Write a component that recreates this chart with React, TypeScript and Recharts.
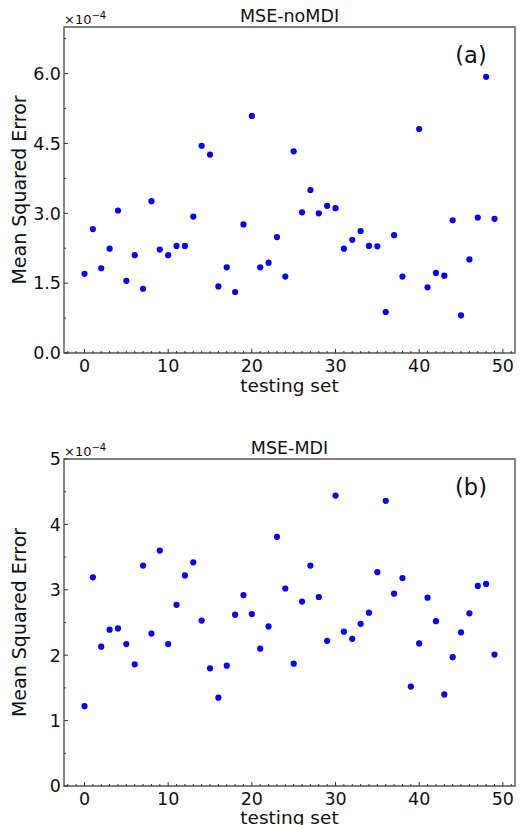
import React from "react";
import {
  ScatterChart,
  Scatter,
  XAxis,
  YAxis,
  ReferenceArea,
} from "recharts";

// values in units of 1e-4, index = testing set
const mseNoMdi: (number | null)[] = [
  1.70, 2.66, 1.82, 2.24, 3.06, 1.55, 2.10, 1.38, 3.26, 2.22,
  2.10, 2.30, 2.30, 2.93, 4.45, 4.26, 1.43, 1.84, 1.31, 2.76,
  5.09, 1.84, 1.94, 2.49, 1.64, 4.33, 3.02, 3.50, 3.00, 3.16,
  3.11, 2.24, 2.43, 2.62, 2.30, 2.29, 0.88, 2.53, 1.64, null,
  4.81, 1.41, 1.72, 1.66, 2.85, 0.81, 2.01, 2.91, 5.93, 2.88,
];

const mseMdi: number[] = [
  1.22, 3.19, 2.13, 2.39, 2.41, 2.17, 1.86, 3.37, 2.33, 3.60,
  2.17, 2.77, 3.22, 3.42, 2.53, 1.80, 1.35, 1.84, 2.62, 2.92,
  2.63, 2.10, 2.44, 3.81, 3.02, 1.87, 2.82, 3.37, 2.89, 2.22,
  4.44, 2.36, 2.25, 2.48, 2.65, 3.27, 4.36, 2.94, 3.18, 1.52,
  2.18, 2.88, 2.52, 1.40, 1.97, 2.35, 2.64, 3.06, 3.09, 2.01,
];

const xTicks = Array.from({ length: 54 }, (_, i) => i - 2);
const yTicksTop = [0, 0.75, 1.5, 2.25, 3, 3.75, 4.5, 5.25, 6, 6.75];
const yTicksBottom = [0, 0.5, 1, 1.5, 2, 2.5, 3, 3.5, 4, 4.5, 5];

const FONT = "'DejaVu Sans', sans-serif";
const FRAME = "#555";
const X_DOMAIN: [number, number] = [-2.45, 51.45];

const toPoints = (vals: (number | null)[]) =>
  vals
    .map((v, i) => ({ x: i, y: v }))
    .filter((p) => p.y !== null);

const Dot = (props: any) => {
  const { cx, cy } = props;
  return <circle cx={cx} cy={cy} r={3.1} fill="#0000ff" />;
};

const XTick = (props: any) => {
  const { x, y, payload } = props;
  const v = payload.value;
  const major = v % 10 === 0;
  return (
    <g>
      <line x1={x} x2={x} y1={y} y2={y - (major ? 4 : 2)} stroke="#333" strokeWidth={1} />
      {major && v >= 0 && (
        <text x={x} y={y + 18.5} textAnchor="middle" fontSize={17.5} fontFamily={FONT} fill="#111">
          {v}
        </text>
      )}
    </g>
  );
};

const makeYTick = (step: number, digits: number) => (props: any) => {
  const { x, y, payload } = props;
  const v = payload.value;
  const major = Math.abs(v / step - Math.round(v / step)) < 1e-6;
  return (
    <g>
      <line x1={x} x2={x + (major ? 4 : 2)} y1={y} y2={y} stroke="#333" strokeWidth={1} />
      {major && (
        <text x={x - 3} y={y} dy="0.36em" textAnchor="end" fontSize={17.5} fontFamily={FONT} fill="#111">
          {v.toFixed(digits)}
        </text>
      )}
    </g>
  );
};

interface PanelProps {
  height: number;
  plotTop: number;
  plotBottom: number;
  yMax: number;
  yTicks: number[];
  yStep: number;
  yDigits: number;
  points: { x: number; y: number | null }[];
  title: string;
  tag: string;
  xLabelY: number;
}

function Panel({ height, plotTop, plotBottom, yMax, yTicks, yStep, yDigits, points, title, tag, xLabelY }: PanelProps) {
  const plotLeft = 64;
  const plotRight = 515;
  const cx = (plotLeft + plotRight) / 2;
  return (
    <div style={{ position: "relative", width: 520, height }}>
      <ScatterChart
        width={520}
        height={height}
        margin={{ top: plotTop, right: 520 - plotRight, bottom: 0, left: 0 }}
      >
        <XAxis
          type="number"
          dataKey="x"
          domain={X_DOMAIN}
          ticks={xTicks}
          interval={0}
          allowDataOverflow
          height={height - plotBottom}
          tickSize={0}
          tickMargin={0}
          tickLine={false}
          axisLine={false}
          tick={XTick}
        />
        <YAxis
          type="number"
          dataKey="y"
          domain={[0, yMax]}
          ticks={yTicks}
          interval={0}
          allowDataOverflow
          width={plotLeft}
          tickSize={0}
          tickMargin={0}
          tickLine={false}
          axisLine={false}
          tick={makeYTick(yStep, yDigits)}
        />
        <ReferenceArea
          x1={X_DOMAIN[0]}
          x2={X_DOMAIN[1]}
          y1={0}
          y2={yMax}
          fill="none"
          stroke={FRAME}
          strokeWidth={1.4}
        />
        <Scatter data={points} fill="#0000ff" shape={Dot} isAnimationActive={false} />
      </ScatterChart>
      <svg
        width={520}
        height={height}
        style={{ position: "absolute", left: 0, top: 0, pointerEvents: "none", overflow: "visible" }}
        fontFamily={FONT}
      >
        <text x={plotLeft} y={plotTop - 3} fontSize={13} fill="#111">
          ×10
          <tspan fontSize={10} dy={-5}>−4</tspan>
        </text>
        <text x={cx} y={plotTop - 5} textAnchor="middle" fontSize={17.5} fill="#111">
          {title}
        </text>
        <text x={471} y={plotTop + 35.5} textAnchor="middle" fontSize={22.5} fill="#111">
          {tag}
        </text>
        <text x={cx} y={xLabelY} textAnchor="middle" fontSize={18.5} fill="#111">
          testing set
        </text>
        <text
          x={0}
          y={0}
          transform={`translate(26, ${(plotTop + plotBottom) / 2}) rotate(-90)`}
          textAnchor="middle"
          fontSize={19}
          fill="#111"
        >
          Mean Squared Error
        </text>
      </svg>
    </div>
  );
}

export default function App() {
  return (
    <div style={{ position: "absolute", left: 0, top: 0, width: 520, height: 825, background: "#fff", overflow: "hidden" }}>
      <Panel
        height={412}
        plotTop={27}
        plotBottom={353}
        yMax={7}
        yTicks={yTicksTop}
        yStep={1.5}
        yDigits={1}
        points={toPoints(mseNoMdi)}
        title="MSE-noMDI"
        tag="(a)"
        xLabelY={391.5}
      />
      <Panel
        height={413}
        plotTop={47}
        plotBottom={374}
        yMax={5}
        yTicks={yTicksBottom}
        yStep={1}
        yDigits={0}
        points={toPoints(mseMdi)}
        title="MSE-MDI"
        tag="(b)"
        xLabelY={412}
      />
    </div>
  );
}
